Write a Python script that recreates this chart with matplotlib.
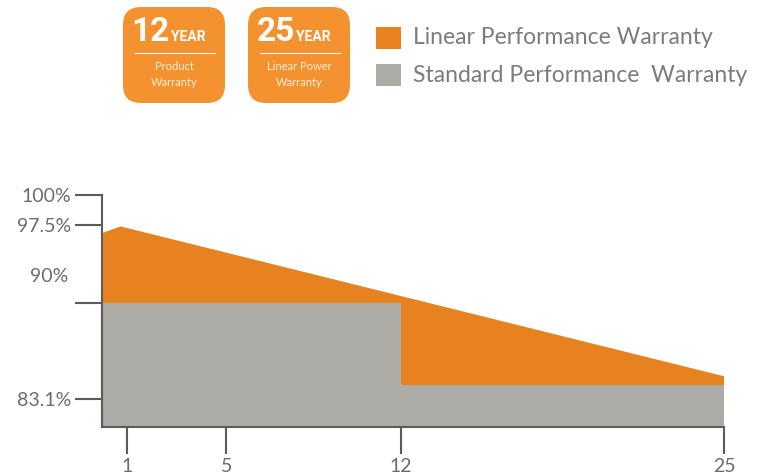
import matplotlib
matplotlib.use("Agg")
import matplotlib.pyplot as plt
from matplotlib.patches import FancyBboxPatch, Rectangle

# values (y in %, x in years)
linear_years = [0, 0.75, 25]
linear_pct = [96.85, 97.4, 85.0]

standard_years = [0, 12, 25]
standard_pct = [91.1, 84.3, 84.3]

y_ticks = [100, 97.5, 91.1, 83.1]
y_tick_labels = ["100%", "97.5%", "", "83.1%"]
y_label_90 = [93.4]
x_ticks = [1, 5, 12, 25]

legend_labels = ["Linear Performance Warranty", "Standard Performance  Warranty"]
badge_numbers = ["12", "25"]
badge_captions = [["Product", "Warranty"], ["Linear Power", "Warranty"]]

ORANGE = "#E6821F"
BADGE = "#F3922F"
GREY = "#ADABA6"
AXIS = "#5c5c5c"
TEXT = "#6c6c6c"
LEGEND_TEXT = "#7c7c7c"
FONT = ["Lato", "DejaVu Sans"]
BOLD = ["Roboto", "DejaVu Sans"]

W, H = 761, 475


def main():
    fig = plt.figure(figsize=(W / 100, H / 100), dpi=100)

    # chart axes: left spine at x=102px, bottom at y=427px, top at 100%
    ax = fig.add_axes([102 / W, (H - 427) / H, 622 / W, 232 / H])
    ax.fill_between(linear_years, linear_pct, 0, color=ORANGE, lw=0)
    ax.fill_between(standard_years, standard_pct, 0, step="post", color=GREY, lw=0)
    ax.set_xlim(0, 25)
    ax.set_ylim(80.8, 100)
    for side in ["top", "right"]:
        ax.spines[side].set_visible(False)
    for side in ["left", "bottom"]:
        ax.spines[side].set_color(AXIS)
        ax.spines[side].set_linewidth(1.5)

    ax.set_yticks(y_ticks, y_tick_labels)
    ax.set_yticks(y_label_90, ["90%"], minor=True)
    ax.set_xticks(x_ticks, [str(x) for x in x_ticks])
    ax.tick_params(which="major", length=19.5, width=1.5, color=AXIS,
                   labelsize=14, labelcolor=TEXT, pad=3)
    ax.tick_params(which="minor", length=0, labelsize=14, labelcolor=TEXT, pad=24)
    for lab in ax.get_xticklabels() + ax.get_yticklabels() + ax.get_yticklabels(minor=True):
        lab.set_fontfamily(FONT)

    # overlay in pixel coordinates for badges and legend
    deco = fig.add_axes([0, 0, 1, 1])
    deco.set_xlim(0, W)
    deco.set_ylim(H, 0)
    deco.axis("off")

    for i, (num, caption) in enumerate(zip(badge_numbers, badge_captions)):
        left = 123 + i * 125
        cx = left + 51
        deco.add_patch(FancyBboxPatch((left + 18, 7 + 18), 102 - 36, 96 - 36,
                                      boxstyle="round,pad=18", fc=BADGE, ec="none"))
        deco.text(cx - 4, 41, num, color="white", fontsize=24, fontweight="bold",
                  family=BOLD, ha="right", va="baseline")
        deco.text(cx - 3, 41, "YEAR", color="white", fontsize=10, fontweight="bold",
                  family=BOLD, ha="left", va="baseline")
        deco.plot([left + 12, left + 92], [53, 53], color="white", lw=0.8)
        for j, line in enumerate(caption):
            deco.text(cx, 67 + j * 15, line, color="white", fontsize=8,
                      family=FONT, ha="center", va="center", alpha=0.85)

    for i, (label, color) in enumerate(zip(legend_labels, [ORANGE, GREY])):
        y = 38 + i * 37
        deco.add_patch(Rectangle((376, y - 11), 25, 22, fc=color, ec="none"))
        deco.text(413, y, label, color=LEGEND_TEXT, fontsize=16.5, family=FONT,
                  ha="left", va="center")

    fig.savefig("out.png", dpi=100)


if __name__ == "__main__":
    main()
